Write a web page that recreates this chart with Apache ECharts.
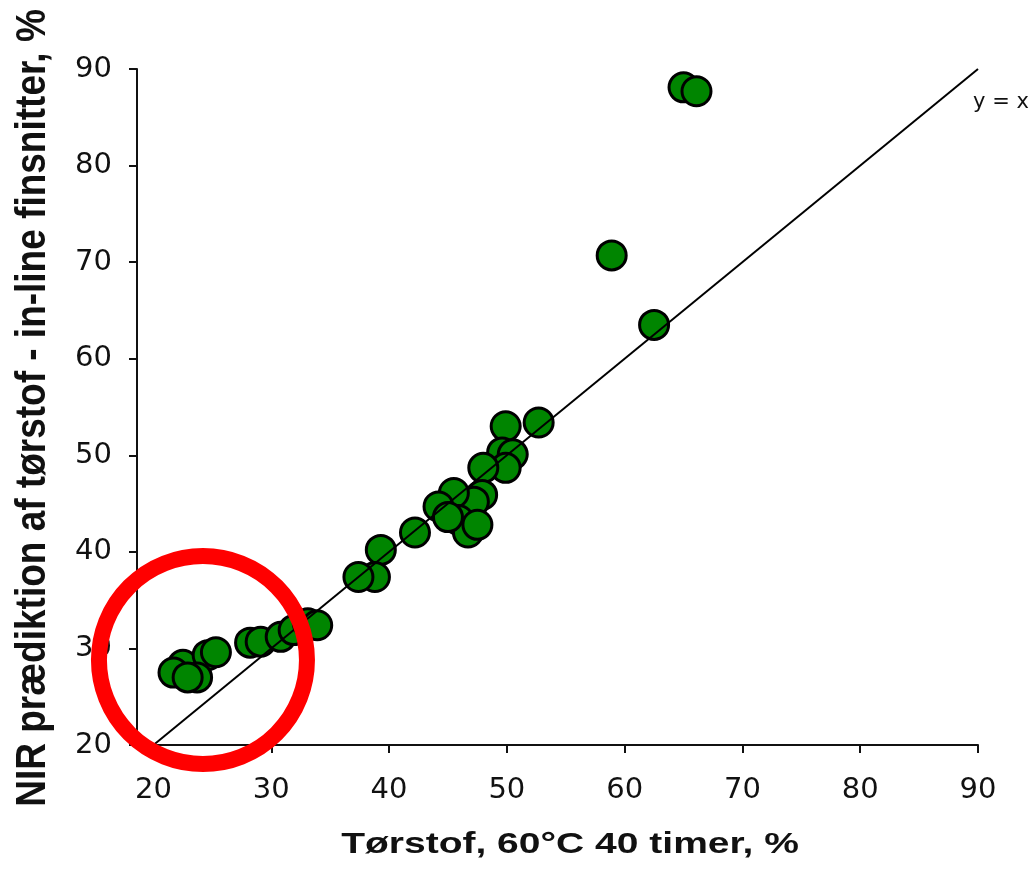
<!DOCTYPE html>
<html>
<head>
<meta charset="utf-8">
<script src="https://cdn.jsdelivr.net/npm/echarts@6/dist/echarts.min.js"></script>
<style>
html,body{margin:0;padding:0;background:#fff;}
#chart{width:1030px;height:869px;}
</style>
</head>
<body>
<div id="chart"></div>
<script>
// Measured values (Tørstof 60°C 40 timer, NIR prediction)
const xValues = [65.0, 66.1, 58.9, 62.5, 52.7, 49.9, 49.6, 50.5, 49.9, 48.0, 47.9, 47.2, 45.5, 44.2, 45.9, 46.7, 47.5, 45.0, 42.2, 39.3, 38.8, 37.4,
                 22.5, 21.7, 24.6, 25.3, 23.7, 22.9, 28.2, 29.1, 30.8, 31.9, 33.1, 33.9];
const yValues = [88.1, 87.7, 70.7, 63.5, 53.4, 53.0, 50.3, 50.1, 48.7, 48.7, 45.9, 45.2, 46.1, 44.7, 43.3, 42.0, 42.8, 43.6, 42.0, 40.2, 37.4, 37.4,
                 28.3, 27.5, 29.3, 29.6, 27.0, 27.0, 30.6, 30.7, 31.2, 31.9, 32.6, 32.4];
const identityLine = [[20, 20], [90, 90]];
const tickValues = [20, 30, 40, 50, 60, 70, 80, 90];
const xTitle = 'Tørstof, 60°C 40 timer, %';
const yTitle = 'NIR prædiktion af tørstof - in-line finsnitter, %';
const lineLabel = 'y = x';
const highlightCenter = [24.2, 28.8];

const points = xValues.map((x, i) => [x, yValues[i]]);

const chart = echarts.init(document.getElementById('chart'), null, {renderer: 'canvas'});
const axisLabelStyle = {fontFamily: '"DejaVu Sans", Verdana, sans-serif', fontSize: 29, color: '#111'};
chart.setOption({
  animation: false,
  backgroundColor: '#fff',
  grid: {left: 137, right: 52, top: 69, bottom: 124, containLabel: false},
  xAxis: {
    type: 'value', min: 18.6, max: 90,
    axisLine: {show: true, onZero: false, lineStyle: {color: '#111', width: 2}},
    axisTick: {show: true, length: 8, customValues: tickValues, lineStyle: {color: '#111', width: 2}},
    axisLabel: Object.assign({margin: 31, customValues: tickValues}, axisLabelStyle),
    splitLine: {show: false}
  },
  yAxis: {
    type: 'value', min: 20, max: 90, interval: 10,
    axisLine: {show: true, onZero: false, lineStyle: {color: '#111', width: 2}},
    axisTick: {show: true, length: 8, lineStyle: {color: '#111', width: 2}},
    axisLabel: Object.assign({margin: 25}, axisLabelStyle),
    splitLine: {show: false}
  },
  series: [
    {
      type: 'scatter', data: points, symbol: 'circle', symbolSize: 29, z: 2,
      itemStyle: {color: '#008500', borderColor: '#000', borderWidth: 3, opacity: 1}
    },
    {
      type: 'line', data: identityLine, symbol: 'none', z: 3,
      lineStyle: {color: '#000', width: 2}
    }
  ]
});

const c = chart.convertToPixel({gridIndex: 0}, highlightCenter);
const e = chart.convertToPixel({gridIndex: 0}, identityLine[1]);
chart.setOption({
  graphic: [
    {type: 'circle', x: c[0], y: c[1], shape: {r: 104}, z: 10,
     style: {fill: 'none', stroke: '#ff0000', lineWidth: 16}},
    {type: 'text', x: e[0] + 23, y: e[1] + 34, z: 10,
     style: {text: lineLabel, font: '21px "DejaVu Sans"', fill: '#111', textAlign: 'center', textVerticalAlign: 'middle'}},
    {type: 'text', x: 570, y: 845, scaleX: 1.3, z: 10,
     style: {text: xTitle, font: 'bold 30px "Liberation Sans"', fill: '#111', textAlign: 'center', textVerticalAlign: 'middle'}},
    {type: 'text', x: 33, y: 408, rotation: Math.PI / 2, scaleY: 1.15, z: 10,
     style: {text: yTitle, font: 'bold 37px "Liberation Sans"', fill: '#111', textAlign: 'center', textVerticalAlign: 'middle'}}
  ]
});
</script>
</body>
</html>
